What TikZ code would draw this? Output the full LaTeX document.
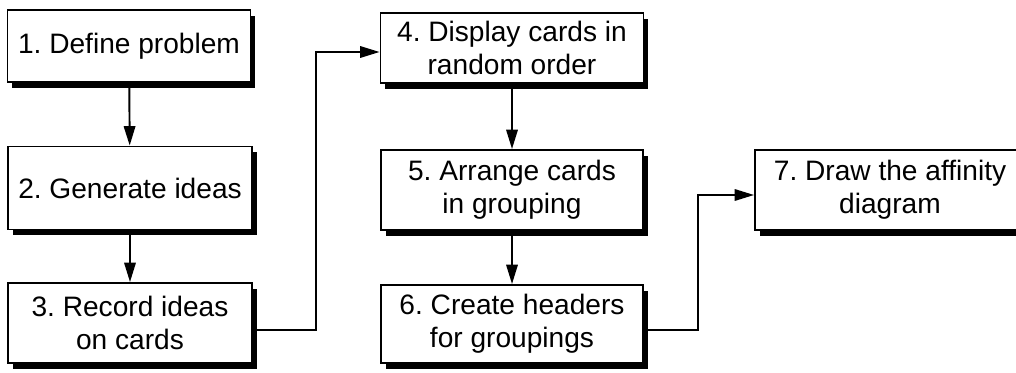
\documentclass[tikz,border=0pt]{standalone}
\usepackage{fontspec}
\setmainfont{Liberation Sans}
\frenchspacing
\usepackage{tikz}
\usetikzlibrary{shadows}
\usetikzlibrary{positioning}
\usetikzlibrary{arrows.meta,calc}
\tikzstyle{step box}=[rectangle,draw=black,fill=white,line width=1.1pt,align=center,inner sep=0pt,
  font=\fontsize{16}{19}\selectfont,
  drop shadow={shadow xshift=2.6pt,shadow yshift=-3.4pt,fill=black,opacity=1}]
\tikzstyle{edge} = [draw,line width=1.1pt,-{Triangle[length=11pt,width=6.5pt]}]

\begin{document}
\begin{tikzpicture}[x=0.02cm,y=-0.02cm]
    \useasboundingbox (0,0) rectangle (1016,372);
    % First we draw the steps
    \foreach \pos/\name/\boxw/\boxh/\label in {{(129,46)/b1/243/72/1. Define problem}, {(130,188)/b2/244/83/2. Generate ideas}, {(130,323)/b3/244/80/3. Record ideas\\on cards},
        {(512,48)/b4/263/70/4. Display cards in\\random order}, {(512,190)/b5/262/80/5. Arrange cards\\in grouping}, {(512,324)/b6/262/78/6. Create headers\\for groupings},
        {(890,190)/b7/270/80/7. Draw the affinity\\diagram}}
        \node[step box,minimum width=\boxw*0.02cm,minimum height=\boxh*0.02cm] (\name) at \pos {\label};

    % Connect steps in each column
    \foreach \source/ \dest in {b1/b2, b2/b3, b4/b5, b5/b6}
          \path[edge] (\source) -- (\dest);

    % Jumps to the next column
    \path[edge] ($(b3.east)+(0,7)$) -- ++(63,0) |- ($(b4.west)+(0,4)$);
    \path[edge] ($(b6.east)+(0,6)$) -- ++(54,0) |- ($(b7.west)+(0,5)$);
\end{tikzpicture}
\end{document}
